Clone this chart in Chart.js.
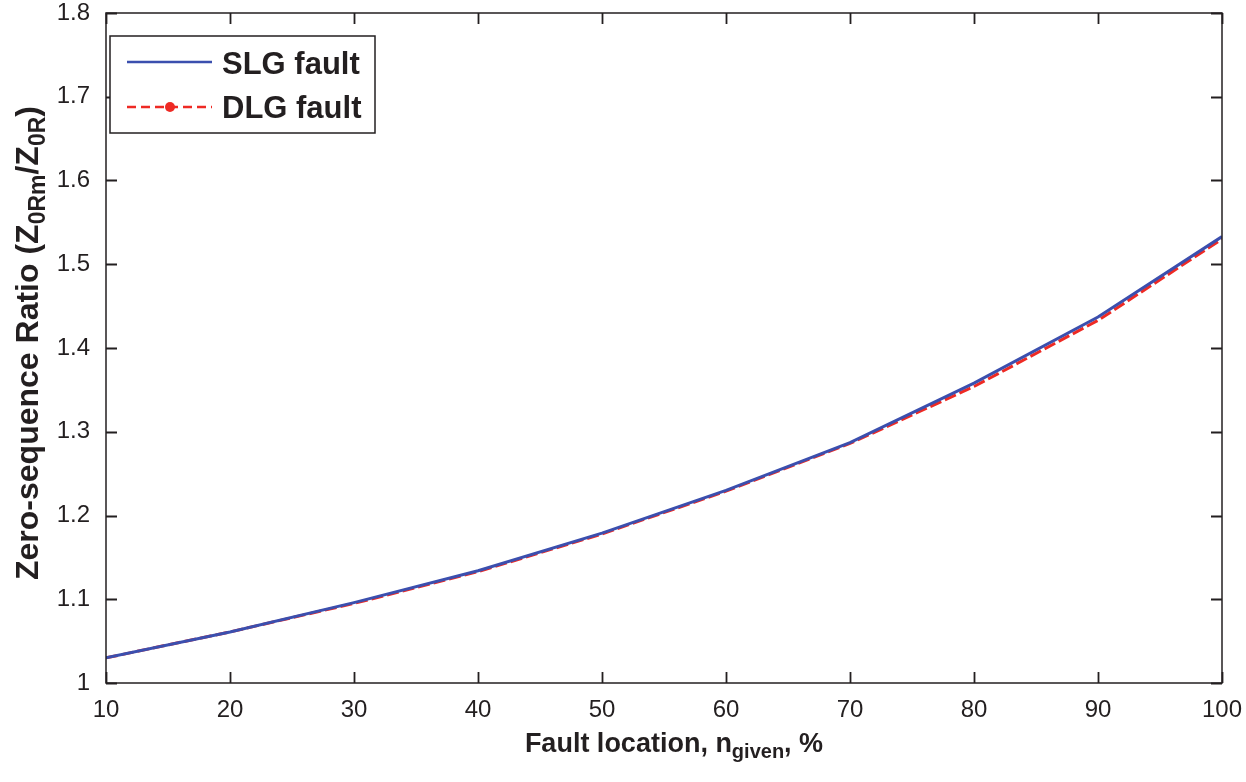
<!DOCTYPE html>
<html>
<head>
<meta charset="utf-8">
<script src="https://cdn.jsdelivr.net/npm/chart.js@4/dist/chart.umd.min.js"></script>
<style>
body { margin: 0; background: #fff; }
#wrap { width: 1246px; height: 782px; }
</style>
</head>
<body>
<div id="wrap"><canvas id="ratioChart"></canvas></div>
<script>
// fault location in %
var locations = [10, 20, 30, 40, 50, 60, 70, 80, 90, 100];
var slgRatio = [1.030, 1.061, 1.096, 1.134, 1.179, 1.230, 1.287, 1.358, 1.437, 1.533];
var dlgRatio = [1.030, 1.061, 1.095, 1.133, 1.178, 1.229, 1.286, 1.354, 1.433, 1.530];
var seriesNames = ["SLG fault", "DLG fault"];

var FONT = "'Liberation Sans', Arial, Helvetica, sans-serif";
var INK = "#231f20";
var BLUE = "#3b4fae";
var RED = "#ee2a24";

function toXY(xs, ys) {
	return xs.map(function (x, i) { return { x: x, y: ys[i] }; });
}

// draws text pieces, some of them subscripts, centred on 0
function drawRich(ctx, parts, size, subSize, drop) {
	var total = 0;
	parts.forEach(function (p) {
		ctx.font = "bold " + (p[1] ? subSize : size) + "px " + FONT;
		total += ctx.measureText(p[0]).width;
	});
	var x = -total / 2;
	parts.forEach(function (p) {
		ctx.font = "bold " + (p[1] ? subSize : size) + "px " + FONT;
		ctx.fillText(p[0], x, p[1] ? drop : 0);
		x += ctx.measureText(p[0]).width;
	});
}

var framePlugin = {
	id: "frame",
	afterDraw: function (chart) {
		var ctx = chart.ctx;
		var a = chart.chartArea;
		var xs = chart.scales.x, ys = chart.scales.y;
		ctx.save();
		ctx.strokeStyle = INK;
		ctx.lineWidth = 1.5;
		ctx.strokeRect(a.left, a.top, a.right - a.left, a.bottom - a.top);
		// inward ticks on every side
		ctx.beginPath();
		xs.ticks.forEach(function (t) {
			var px = Math.round(xs.getPixelForValue(t.value)) + 0.5;
			ctx.moveTo(px, a.bottom); ctx.lineTo(px, a.bottom - 11);
			ctx.moveTo(px, a.top); ctx.lineTo(px, a.top + 11);
		});
		ys.ticks.forEach(function (t) {
			var py = Math.round(ys.getPixelForValue(t.value)) + 0.5;
			ctx.moveTo(a.left, py); ctx.lineTo(a.left + 11, py);
			ctx.moveTo(a.right, py); ctx.lineTo(a.right - 11, py);
		});
		ctx.lineWidth = 1.8;
		ctx.stroke();

		// axis titles
		ctx.fillStyle = INK;
		ctx.textBaseline = "alphabetic";
		ctx.save();
		ctx.translate(674, 752);
		drawRich(ctx, [["Fault location, n", false], ["given", true], [", %", false]], 27, 20, 6);
		ctx.restore();

		ctx.save();
		ctx.translate(38, 343);
		ctx.rotate(-Math.PI / 2);
		drawRich(ctx, [["Zero-sequence Ratio (Z", false], ["0Rm", true], ["/Z", false], ["0R", true], [")", false]], 32, 23, 7);
		ctx.restore();

		// legend box
		var lx = 110, ly = 36, lw = 265, lh = 97;
		ctx.fillStyle = "#fff";
		ctx.fillRect(lx, ly, lw, lh);
		ctx.lineWidth = 1.5;
		ctx.strokeStyle = INK;
		ctx.strokeRect(lx, ly, lw, lh);

		var d = chart.data.datasets;
		ctx.lineWidth = 2.5;
		ctx.strokeStyle = d[0].borderColor;
		ctx.beginPath(); ctx.moveTo(127, 62); ctx.lineTo(212, 62); ctx.stroke();
		ctx.strokeStyle = d[1].borderColor;
		ctx.setLineDash([9, 5]);
		ctx.beginPath(); ctx.moveTo(127, 107); ctx.lineTo(212, 107); ctx.stroke();
		ctx.setLineDash([]);
		ctx.fillStyle = d[1].borderColor;
		ctx.beginPath(); ctx.arc(170, 107, 5, 0, Math.PI * 2); ctx.fill();

		ctx.fillStyle = INK;
		ctx.font = "bold 31px " + FONT;
		ctx.textAlign = "left";
		ctx.fillText(d[0].label, 222, 74);
		ctx.fillText(d[1].label, 222, 118);
		ctx.restore();
	}
};

new Chart("ratioChart", {
	type: "line",
	data: {
		datasets: [
			{
				label: seriesNames[0],
				data: toXY(locations, slgRatio),
				borderColor: BLUE,
				borderWidth: 3,
				pointRadius: 0,
				tension: 0,
				fill: false
			},
			{
				label: seriesNames[1],
				data: toXY(locations, dlgRatio),
				borderColor: RED,
				borderWidth: 3,
				borderDash: [12, 4],
				pointRadius: 0,
				tension: 0,
				fill: false
			}
		]
	},
	options: {
		responsive: true,
		maintainAspectRatio: false,
		animation: false,
		layout: { padding: { left: 0, right: 24, top: 13, bottom: 0 } },
		plugins: {
			legend: { display: false },
			tooltip: { enabled: false }
		},
		scales: {
			x: {
				type: "linear",
				min: 10,
				max: 100,
				grid: { display: false },
				border: { display: false },
				afterFit: function (s) {
					s.height = 99;
					s.paddingLeft = 0;
					s.paddingRight = 0;
				},
				ticks: {
					stepSize: 10,
					padding: 5,
					color: INK,
					font: { family: FONT, size: 24 },
					maxRotation: 0
				}
			},
			y: {
				type: "linear",
				min: 1,
				max: 1.8,
				grid: { display: false },
				border: { display: false },
				afterFit: function (s) {
					s.width = 106;
					s.paddingTop = 0;
					s.paddingBottom = 0;
				},
				ticks: {
					stepSize: 0.1,
					padding: 8,
					color: INK,
					font: { family: FONT, size: 24 },
					callback: function (v) { return String(+v.toFixed(1)); }
				}
			}
		}
	},
	plugins: [framePlugin]
});
</script>
</body>
</html>
